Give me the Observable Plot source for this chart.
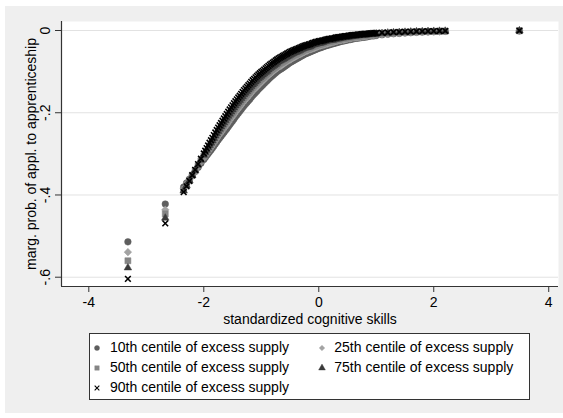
<!DOCTYPE html>
<html>
<head>
<meta charset="utf-8">
<script src="https://cdn.jsdelivr.net/npm/d3@7"></script>
<script src="https://cdn.jsdelivr.net/npm/@observablehq/plot@0.6"></script>
<style>
  html, body { margin: 0; padding: 0; background: #ffffff; }
  body { width: 563px; height: 418px; position: relative; overflow: hidden;
         font-family: "Liberation Sans", Arial, sans-serif; }
  #bg { position: absolute; left: 5px; top: 6px; width: 558px; height: 407px; background: #efefef; }
  #chart { position: absolute; left: 0; top: 0; }
  #legend { position: absolute; left: 89px; top: 333px; width: 439px; height: 65px;
            border: 1px solid #333; background: #ffffff; }
  #legend .lab { position: absolute; font-size: 14px; line-height: 20px; color: #000; white-space: nowrap; }
  #legend svg { position: absolute; overflow: visible; }
</style>
</head>
<body>
<div id="bg"></div>
<div id="chart"></div>
<div id="legend"></div>
<script>
// ---- data ----
const seriesLabels = [
  "10th centile of excess supply",
  "25th centile of excess supply",
  "50th centile of excess supply",
  "75th centile of excess supply",
  "90th centile of excess supply"
];
const xTitle = "standardized cognitive skills";
const yTitle = "marg. prob. of appl. to apprenticeship";
const xTicks = [-4, -2, 0, 2, 4];
const yTicks = [0, -0.2, -0.4, -0.6];
const yTickLabels = ["0", "-.2", "-.4", "-.6"];

// skill values (first grid)
const skills = [
  -3.32, -2.67,
  -2.35,-2.30,-2.25,-2.20,-2.15,-2.10,-2.05,-2.00,-1.95,-1.90,
  -1.85,-1.80,-1.75,-1.70,-1.65,-1.60,-1.55,-1.50,-1.45,-1.40,
  -1.35,-1.30,-1.25,-1.20,-1.15,-1.10,-1.05,-1.00,-0.95,-0.90,
  -0.85,-0.80,-0.75,-0.70,-0.65,-0.60,-0.55,-0.50,-0.45,-0.40,
  -0.35,-0.30,-0.25,-0.20,-0.15,-0.10,-0.05,0.00,0.05,0.10,
  0.15,0.20,0.25,0.30,0.35,0.40,0.45,0.50,0.55,0.60,
  0.65,0.70,0.75,0.80,0.85,0.90,0.95,1.00,
  1.1,1.2,1.3,1.4,1.5,1.6,1.7,1.8,1.9,2.0,2.1,2.2,
  3.49
];
const me10 = [
  -0.514, -0.422,
  -0.381,-0.371,-0.362,-0.352,-0.343,-0.333,-0.323,-0.314,-0.304,-0.295,
  -0.286,-0.276,-0.266,-0.257,-0.248,-0.239,-0.229,-0.220,-0.210,-0.201,
  -0.192,-0.183,-0.175,-0.167,-0.158,-0.151,-0.143,-0.136,-0.129,-0.122,
  -0.115,-0.109,-0.103,-0.097,-0.093,-0.088,-0.083,-0.078,-0.074,-0.070,
  -0.066,-0.062,-0.058,-0.055,-0.052,-0.049,-0.046,-0.043,-0.041,-0.038,
  -0.036,-0.034,-0.032,-0.030,-0.028,-0.026,-0.025,-0.023,-0.022,-0.020,
  -0.019,-0.018,-0.017,-0.016,-0.015,-0.013,-0.013,-0.012,
  -0.0105,-0.0091,-0.0079,-0.0070,-0.0061,-0.0053,-0.0045,-0.0039,-0.0034,-0.0030,-0.0025,-0.0021,
  -0.0012
];
const me25 = [
  -0.539, -0.436,
  -0.385,-0.373,-0.363,-0.352,-0.342,-0.331,-0.320,-0.310,-0.299,-0.289,
  -0.279,-0.268,-0.257,-0.248,-0.238,-0.229,-0.218,-0.209,-0.199,-0.190,
  -0.181,-0.172,-0.164,-0.156,-0.147,-0.140,-0.133,-0.126,-0.119,-0.112,
  -0.106,-0.100,-0.094,-0.089,-0.085,-0.080,-0.075,-0.071,-0.067,-0.063,
  -0.059,-0.056,-0.052,-0.049,-0.046,-0.044,-0.041,-0.038,-0.036,-0.034,
  -0.032,-0.030,-0.028,-0.026,-0.024,-0.023,-0.022,-0.020,-0.019,-0.017,
  -0.017,-0.016,-0.015,-0.014,-0.013,-0.011,-0.011,-0.010,
  -0.0090,-0.0079,-0.0068,-0.0060,-0.0052,-0.0045,-0.0039,-0.0033,-0.0029,-0.0026,-0.0022,-0.0018,
  -0.0009
];
const me50 = [
  -0.560, -0.446,
  -0.387,-0.375,-0.364,-0.352,-0.341,-0.329,-0.317,-0.306,-0.295,-0.284,
  -0.273,-0.262,-0.251,-0.241,-0.231,-0.221,-0.210,-0.201,-0.191,-0.182,
  -0.173,-0.164,-0.156,-0.148,-0.139,-0.132,-0.125,-0.118,-0.112,-0.105,
  -0.099,-0.093,-0.088,-0.082,-0.078,-0.074,-0.069,-0.065,-0.061,-0.058,
  -0.054,-0.051,-0.047,-0.045,-0.042,-0.039,-0.037,-0.034,-0.033,-0.030,
  -0.028,-0.027,-0.025,-0.023,-0.022,-0.020,-0.019,-0.018,-0.017,-0.015,
  -0.015,-0.014,-0.013,-0.012,-0.011,-0.010,-0.010,-0.009,
  -0.0080,-0.0069,-0.0060,-0.0053,-0.0046,-0.0040,-0.0034,-0.0029,-0.0025,-0.0022,-0.0019,-0.0016,
  -0.0007
];
const me75 = [
  -0.577, -0.456,
  -0.390,-0.377,-0.365,-0.352,-0.340,-0.327,-0.315,-0.303,-0.291,-0.279,
  -0.268,-0.256,-0.245,-0.234,-0.224,-0.213,-0.203,-0.193,-0.183,-0.174,
  -0.165,-0.156,-0.148,-0.140,-0.132,-0.125,-0.117,-0.111,-0.105,-0.099,
  -0.092,-0.087,-0.082,-0.076,-0.072,-0.068,-0.064,-0.060,-0.056,-0.053,
  -0.050,-0.046,-0.043,-0.041,-0.039,-0.035,-0.033,-0.031,-0.030,-0.027,
  -0.025,-0.024,-0.023,-0.021,-0.020,-0.018,-0.017,-0.016,-0.015,-0.014,
  -0.013,-0.012,-0.011,-0.011,-0.010,-0.009,-0.009,-0.008,
  -0.0070,-0.0060,-0.0052,-0.0046,-0.0040,-0.0035,-0.0029,-0.0026,-0.0022,-0.0019,-0.0016,-0.0014,
  -0.0005
];
const me90 = [
  -0.604, -0.469,
  -0.393,-0.379,-0.366,-0.352,-0.339,-0.325,-0.312,-0.299,-0.286,-0.273,
  -0.261,-0.248,-0.236,-0.225,-0.214,-0.203,-0.192,-0.182,-0.172,-0.163,
  -0.154,-0.145,-0.137,-0.129,-0.121,-0.114,-0.107,-0.101,-0.095,-0.089,
  -0.083,-0.078,-0.073,-0.068,-0.064,-0.060,-0.056,-0.052,-0.049,-0.046,
  -0.043,-0.040,-0.037,-0.035,-0.033,-0.030,-0.028,-0.026,-0.025,-0.023,
  -0.021,-0.020,-0.019,-0.017,-0.016,-0.015,-0.014,-0.013,-0.012,-0.011,
  -0.0105,-0.010,-0.009,-0.0085,-0.008,-0.007,-0.007,-0.006,
  -0.0055,-0.0048,-0.0041,-0.0036,-0.0031,-0.0027,-0.0023,-0.0020,-0.0017,-0.0015,-0.0013,-0.0011,
  -0.0003
];

// skill values (second grid, where observations are denser)
const skillsB = [
  -1.975,-1.925,-1.875,-1.825,-1.775,-1.725,-1.675,-1.625,-1.575,-1.525,
  -1.475,-1.425,-1.375,-1.325,-1.275,-1.225,-1.175,-1.125,-1.075,-1.025,
  -0.975,-0.925,-0.875,-0.825,-0.775,-0.725,-0.675,-0.625,-0.575,-0.525,
  -0.475,-0.425,-0.375,-0.325,-0.275,-0.225,-0.175,-0.125,-0.075,-0.025,
  0.025,0.075,0.125,0.175,0.225,0.275,0.325,0.375,0.425,0.475,
  0.525,0.575,0.625,0.675,0.725,0.775,0.825,0.875,0.925,0.975
];
const me10B = [
  -0.309,-0.2995,-0.2905,-0.281,-0.271,-0.2615,-0.2525,-0.2435,-0.234,-0.2245,
  -0.215,-0.2055,-0.1965,-0.1875,-0.179,-0.171,-0.1625,-0.1545,-0.147,-0.1395,
  -0.1325,-0.1255,-0.1185,-0.112,-0.106,-0.100,-0.095,-0.0905,-0.0855,-0.0805,
  -0.076,-0.072,-0.068,-0.064,-0.060,-0.0565,-0.0535,-0.0505,-0.0475,-0.0445,
  -0.042,-0.0395,-0.037,-0.035,-0.033,-0.031,-0.029,-0.027,-0.0255,-0.024,
  -0.0225,-0.021,-0.0195,-0.0185,-0.0175,-0.0165,-0.0155,-0.014,-0.013,-0.0125
];
const me25B = [
  -0.3045,-0.294,-0.284,-0.2735,-0.2625,-0.2525,-0.243,-0.2335,-0.2235,-0.2135,
  -0.204,-0.1945,-0.1855,-0.1765,-0.168,-0.160,-0.1515,-0.1435,-0.1365,-0.1295,
  -0.1225,-0.1155,-0.109,-0.103,-0.097,-0.0915,-0.087,-0.0825,-0.0775,-0.073,
  -0.069,-0.065,-0.061,-0.0575,-0.054,-0.0505,-0.0475,-0.045,-0.0425,-0.0395,
  -0.037,-0.035,-0.033,-0.031,-0.029,-0.027,-0.025,-0.0235,-0.0225,-0.021,
  -0.0195,-0.018,-0.017,-0.0165,-0.0155,-0.0145,-0.0135,-0.012,-0.011,-0.0105
];
const me50B = [
  -0.3005,-0.2895,-0.2785,-0.2675,-0.2565,-0.246,-0.236,-0.226,-0.2155,-0.2055,
  -0.196,-0.1865,-0.1775,-0.1685,-0.160,-0.152,-0.1435,-0.1355,-0.1285,-0.1215,
  -0.115,-0.1085,-0.102,-0.096,-0.0905,-0.085,-0.080,-0.076,-0.0715,-0.067,
  -0.063,-0.0595,-0.056,-0.0525,-0.049,-0.046,-0.0435,-0.0405,-0.038,-0.0355,
  -0.0335,-0.0315,-0.029,-0.0275,-0.026,-0.024,-0.0225,-0.021,-0.0195,-0.0185,
  -0.0175,-0.016,-0.015,-0.0145,-0.0135,-0.0125,-0.0115,-0.0105,-0.010,-0.0095
];
const me75B = [
  -0.297,-0.285,-0.2735,-0.262,-0.2505,-0.2395,-0.229,-0.2185,-0.208,-0.198,
  -0.188,-0.1785,-0.1695,-0.1605,-0.152,-0.144,-0.136,-0.1285,-0.121,-0.114,
  -0.108,-0.102,-0.0955,-0.0895,-0.0845,-0.079,-0.074,-0.070,-0.066,-0.062,
  -0.058,-0.0545,-0.0515,-0.048,-0.0445,-0.042,-0.040,-0.037,-0.034,-0.032,
  -0.0305,-0.0285,-0.026,-0.0245,-0.0235,-0.022,-0.0205,-0.019,-0.0175,-0.0165,
  -0.0155,-0.0145,-0.0135,-0.0125,-0.0115,-0.011,-0.0105,-0.0095,-0.009,-0.0085
];
const me90B = [
  -0.2925,-0.2795,-0.267,-0.2545,-0.242,-0.2305,-0.2195,-0.2085,-0.1975,-0.187,
  -0.177,-0.1675,-0.1585,-0.1495,-0.141,-0.133,-0.125,-0.1175,-0.1105,-0.104,
  -0.098,-0.092,-0.086,-0.0805,-0.0755,-0.0705,-0.066,-0.062,-0.058,-0.054,
  -0.0505,-0.0475,-0.0445,-0.0415,-0.0385,-0.036,-0.034,-0.0315,-0.029,-0.027,
  -0.0255,-0.024,-0.022,-0.0205,-0.0195,-0.018,-0.0165,-0.0155,-0.0145,-0.0135,
  -0.0125,-0.0115,-0.0108,-0.0102,-0.0095,-0.0088,-0.0082,-0.0075,-0.007,-0.0065
];

// ---- presentation ----
const seriesA = [me10, me25, me50, me75, me90];
const seriesB = [me10B, me25B, me50B, me75B, me90B];
const markerStyles = [
  {symbol: "circle",   d3sym: d3.symbolCircle,   color: "#5e5e5e", r: 3.3, hollow: false},
  {symbol: "diamond2", d3sym: d3.symbolDiamond2, color: "#a3a3a3", r: 3.4, hollow: false},
  {symbol: "square",   d3sym: d3.symbolSquare,   color: "#858585", r: 3.4, hollow: false},
  {symbol: "triangle", d3sym: d3.symbolTriangle, color: "#3a3a3a", r: 2.8, hollow: false},
  {symbol: "times",    d3sym: d3.symbolTimes,    color: "#000000", r: 2.7, hollow: true}
];
const xDomain = [-4.475, 4.17];
const yDomain = [-0.6226, 0.0219];
const axisColor = "#333333";

const tables = seriesA.map((vals, i) => [
  ...vals.map((v, j) => ({x: skills[j], y: v})),
  ...seriesB[i].map((v, j) => ({x: skillsB[j], y: v}))
]);

const dotMarks = tables.map((data, i) => {
  const s = markerStyles[i];
  return Plot.dot(data, {
    x: "x", y: "y", symbol: s.symbol, r: s.r,
    fill: s.hollow ? "none" : s.color,
    stroke: s.color,
    strokeWidth: s.hollow ? 1.6 : 0.5
  });
});

const chart = Plot.plot({
  width: 563,
  height: 330,
  marginLeft: 61,
  marginRight: 5,
  marginTop: 21,
  marginBottom: 44,
  style: {background: "transparent", fontFamily: "'Liberation Sans', Arial, sans-serif", fontSize: "14px", color: "#000"},
  x: {domain: xDomain},
  y: {domain: yDomain},
  marks: [
    Plot.frame({fill: "#ffffff", stroke: "none"}),
    Plot.gridY(yTicks, {stroke: "#e2e2e2", strokeOpacity: 1, strokeWidth: 1}),
    ...dotMarks,
    Plot.ruleX([xDomain[0]], {stroke: axisColor, strokeWidth: 1.2}),
    Plot.ruleY([yDomain[0]], {stroke: axisColor, strokeWidth: 1.2}),
    Plot.axisX({ticks: xTicks, tickSize: 6, tickPadding: 5, fontSize: 14, label: null, stroke: axisColor, tickFormat: d => String(d)}),
    Plot.axisY({ticks: yTicks, tickSize: 6, fontSize: 14, label: null, stroke: axisColor, tickFormat: () => ""}),
    Plot.text(yTicks, {y: d => d, text: (d, i) => yTickLabels[i], frameAnchor: "left", rotate: -90, dx: -11.5,
      textAnchor: "middle", lineAnchor: "bottom", fontSize: 14, fill: "#000"}),
    Plot.text([yTitle], {text: d => d, frameAnchor: "left", rotate: -90, dx: -30,
      textAnchor: "middle", lineAnchor: "middle", fontSize: 14, fill: "#000"}),
    Plot.text([xTitle], {text: d => d, frameAnchor: "bottom", dy: 37,
      textAnchor: "middle", lineAnchor: "bottom", fontSize: 14, fill: "#000"})
  ]
});
document.getElementById("chart").appendChild(chart);

// ---- legend (two columns, built from the same labels and styles) ----
const legend = document.getElementById("legend");
const colText = [20, 244.3], colMark = [7.3, 231.7];
seriesLabels.forEach((label, i) => {
  const col = i % 2, row = Math.floor(i / 2);
  const s = markerStyles[i];
  const svg = d3.create("svg")
    .attr("width", 10).attr("height", 10)
    .style("left", (colMark[col] - 5) + "px")
    .style("top", (13.7 - 5 + row * 20) + "px");
  svg.append("path")
    .attr("transform", "translate(5,5)")
    .attr("d", d3.symbol(s.d3sym, s.hollow ? 16 : 20)())
    .attr("fill", s.hollow ? "none" : s.color)
    .attr("stroke", s.color)
    .attr("stroke-width", s.hollow ? 1.1 : 0.4);
  legend.appendChild(svg.node());
  const span = document.createElement("div");
  span.className = "lab";
  span.textContent = label;
  span.style.left = colText[col] + "px";
  span.style.top = (2.8 + row * 20) + "px";
  legend.appendChild(span);
});
</script>
</body>
</html>
